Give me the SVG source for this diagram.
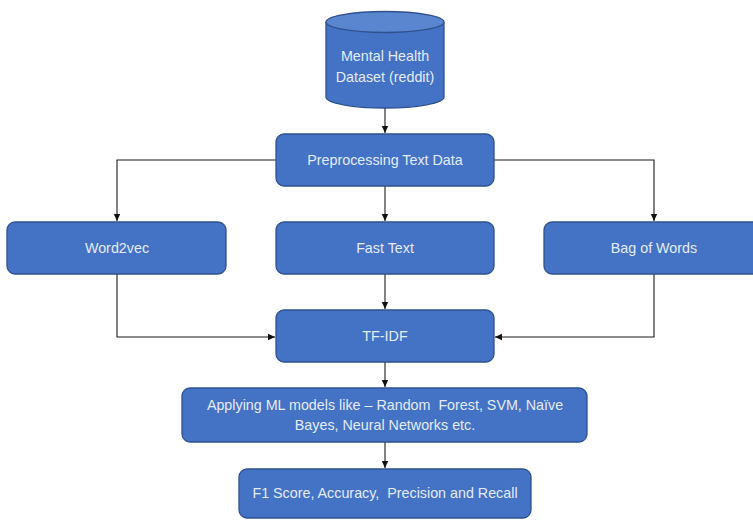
<svg xmlns="http://www.w3.org/2000/svg" width="753" height="520" viewBox="0 0 753 520">
<style>
.box{fill:#4472C4;stroke:#2F528F;stroke-width:1.3}
.t{font-family:"Liberation Sans","Noto Sans",Arial,sans-serif;font-size:14.3px;fill:#E3EBF7;text-anchor:middle;white-space:pre}
.c{fill:none;stroke:#1a1a1a;stroke-width:1.1}
</style>
<defs>
<marker id="ah" markerWidth="8" markerHeight="8" refX="7" refY="4" orient="auto" markerUnits="userSpaceOnUse">
<path d="M0,0.8 L7,4 L0,7.2 Z" fill="#111"/>
</marker>
</defs>
<rect width="753" height="520" fill="#fff"/>
<g id="connectors">
<path class="c" d="M385,107 V133" marker-end="url(#ah)"/>
<path class="c" d="M276,160 H117 V221" marker-end="url(#ah)"/>
<path class="c" d="M494,160 H654 V221" marker-end="url(#ah)"/>
<path class="c" d="M385,186 V221" marker-end="url(#ah)"/>
<path class="c" d="M385,274 V309" marker-end="url(#ah)"/>
<path class="c" d="M117,274 V337 H275" marker-end="url(#ah)"/>
<path class="c" d="M654,274 V337 H495" marker-end="url(#ah)"/>
<path class="c" d="M385,362 V387" marker-end="url(#ah)"/>
<path class="c" d="M385,442 V468" marker-end="url(#ah)"/>
</g>
<g id="dataset">
<path class="box" d="M326,22 V97 A59,11 0 0 0 444,97 V22"/>
<ellipse class="box" cx="385" cy="22" rx="59" ry="10.5" style="fill:#5A85CF"/>
<text class="t" x="385" y="61">Mental Health</text>
<text class="t" x="385" y="82">Dataset (reddit)</text>
</g>
<g id="preprocessing">
<rect class="box" x="276" y="134" width="218" height="52" rx="8"/>
<text class="t" x="385" y="165">Preprocessing Text Data</text>
</g>
<g id="word2vec">
<rect class="box" x="7" y="222" width="219" height="52" rx="8"/>
<text class="t" x="117" y="253">Word2vec</text>
</g>
<g id="fasttext">
<rect class="box" x="276" y="222" width="218" height="52" rx="8"/>
<text class="t" x="385" y="253">Fast Text</text>
</g>
<g id="bagofwords">
<rect class="box" x="544" y="222" width="220" height="52" rx="8"/>
<text class="t" x="654" y="253">Bag of Words</text>
</g>
<g id="tfidf">
<rect class="box" x="276" y="310" width="218" height="52" rx="8"/>
<text class="t" x="385" y="341">TF-IDF</text>
</g>
<g id="models">
<rect class="box" x="182" y="388" width="405" height="54" rx="8"/>
<text class="t" x="385" y="410">Applying ML models like – Random  Forest, SVM, Naïve</text>
<text class="t" x="385" y="430">Bayes, Neural Networks etc.</text>
</g>
<g id="metrics">
<rect class="box" x="239" y="469" width="292" height="49" rx="8"/>
<text class="t" x="385" y="498">F1 Score, Accuracy,  Precision and Recall</text>
</g>
</svg>
